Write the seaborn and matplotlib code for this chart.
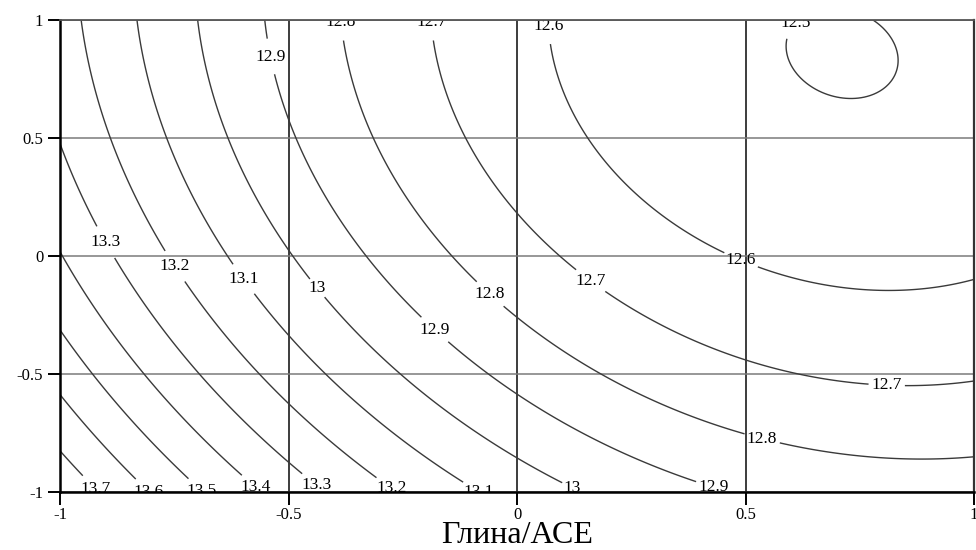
import numpy as np
import matplotlib
matplotlib.use("Agg")
import matplotlib.pyplot as plt
import seaborn as sns

# Regression model (coded factors):
# z = b0 + b1*x + b2*y + b12*x*y + b11*x^2 + b22*y^2
coef_names = ["b0", "b1", "b2", "b12", "b11", "b22"]
coef_values = [12.7362, -0.4112, -0.2182, 0.0522, 0.2575, 0.1054]

contour_levels = [12.5, 12.6, 12.7, 12.8, 12.9, 13.0, 13.1, 13.2, 13.3, 13.4, 13.5, 13.6, 13.7]
tick_values = [-1, -0.5, 0, 0.5, 1]
tick_labels = ["-1", "-0.5", "0", "0.5", "1"]
x_label = "Глина/АСЕ"

# where the reference puts each contour label (data coords)
label_spots = [
    (0.605, 0.995), (0.072, 0.975), (-0.186, 0.99), (-0.382, 0.99), (-0.535, 0.847),
    (-0.895, 0.064), (-0.741, -0.034), (-0.592, -0.089), (-0.434, -0.131),
    (-0.173, -0.297), (-0.055, -0.153), (0.164, -0.097), (0.491, -0.013),
    (0.809, -0.547), (0.539, -0.754),
    (-0.914, -0.97), (-0.794, -0.975), (-0.68, -0.975), (-0.566, -0.966),
    (-0.432, -0.953), (-0.267, -0.962), (-0.075, -0.97), (0.125, -0.97), (0.432, -0.966),
]

sns.set_theme(style="white")
plt.rcParams["font.family"] = ["Liberation Serif", "DejaVu Serif"]
plt.rcParams["axes.unicode_minus"] = False

fig, ax = plt.subplots(figsize=(9.76, 5.5), dpi=100)
fig.subplots_adjust(left=60/976, right=974/976, top=1-20/550, bottom=1-492/550)

b = dict(zip(coef_names, coef_values))
gx, gy = np.meshgrid(np.linspace(-1, 1, 301), np.linspace(-1, 1, 301))
gz = (b["b0"] + b["b1"]*gx + b["b2"]*gy + b["b12"]*gx*gy
      + b["b11"]*gx**2 + b["b22"]*gy**2)

ax.set_xlim(-1, 1)
ax.set_ylim(-1, 1)
ax.set_xticks(tick_values)
ax.set_xticklabels(tick_labels)
ax.set_yticks(tick_values)
ax.set_yticklabels(tick_labels)

ax.xaxis.grid(True, color="#3c3c3c", linewidth=1.4)
ax.yaxis.grid(True, color="#7a7a7a", linewidth=1.1)
ax.set_axisbelow(True)

cs = ax.contour(gx, gy, gz, levels=contour_levels, colors="#3a3a3a",
                linewidths=1.0, zorder=3)
texts = ax.clabel(cs, manual=label_spots, inline=True, inline_spacing=3,
                  fmt=lambda v: f"{round(v, 1):g}", fontsize=12.5, colors="black")
for t in texts:
    t.set_rotation(0)
    t.set_clip_on(True)
    t.set_clip_path(ax.patch)
    t.set_zorder(4)

for side in ["left", "bottom"]:
    ax.spines[side].set_color("black")
    ax.spines[side].set_linewidth(1.8)
ax.spines["top"].set_color("#555555")
ax.spines["top"].set_linewidth(1.3)
ax.spines["right"].set_color("#333333")
ax.spines["right"].set_linewidth(1.6)
for s in ax.spines.values():
    s.set_zorder(5)

ax.tick_params(axis="both", which="major", bottom=True, left=True, direction="out",
               length=9, width=1.4, color="black", labelsize=12, labelcolor="black")
ax.tick_params(axis="x", pad=2)
ax.tick_params(axis="y", pad=3)

xl = ax.set_xlabel(x_label, fontsize=23, color="black")
xl.set_va("baseline")
ax.xaxis.set_label_coords(0.5, -(543 - 492) / 472)

fig.savefig("out.png", dpi=100)
